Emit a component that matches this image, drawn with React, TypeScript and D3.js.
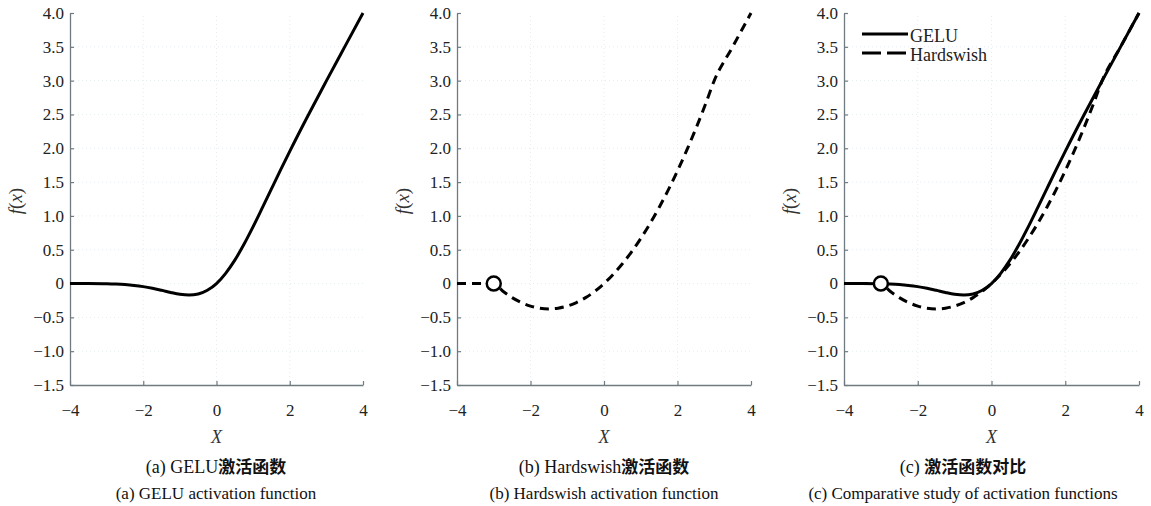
import React, { useEffect, useRef } from 'react';
import * as d3 from 'd3';

// GELU samples
const geluX = [-4, -3.5, -3, -2.75, -2.5, -2.25, -2, -1.75, -1.5, -1.25, -1, -0.75, -0.5, -0.25, 0, 0.25, 0.5, 0.75, 1, 1.25, 1.5, 1.75, 2, 2.5, 3, 3.5, 4];
const geluY = [-0.0001, -0.0008, -0.004, -0.0082, -0.0155, -0.0275, -0.0455, -0.0702, -0.1002, -0.132, -0.1587, -0.17, -0.1543, -0.0987, 0, 0.1513, 0.3457, 0.58, 0.8413, 1.118, 1.3998, 1.6798, 1.9545, 2.4845, 2.996, 3.4992, 3.9999];

// Hardswish samples
const hswX = [-4, -3.5, -3, -2.75, -2.5, -2.25, -2, -1.75, -1.5, -1.25, -1, -0.75, -0.5, -0.25, 0, 0.25, 0.5, 0.75, 1, 1.25, 1.5, 1.75, 2, 2.25, 2.5, 2.75, 3, 3.5, 4];
const hswY = [0, 0, 0, -0.1146, -0.2083, -0.2813, -0.3333, -0.3646, -0.375, -0.3646, -0.3333, -0.2813, -0.2083, -0.1146, 0, 0.1354, 0.2917, 0.4688, 0.6667, 0.8854, 1.125, 1.3854, 1.6667, 1.9688, 2.2917, 2.6354, 3, 3.5, 4];

// kink point marked with a circle
const markX = -3;
const markY = 0;

const xTicks = [-4, -2, 0, 2, 4];
const yTicks = [-1.5, -1.0, -0.5, 0, 0.5, 1.0, 1.5, 2.0, 2.5, 3.0, 3.5, 4.0];

const legendNames = ['GELU', 'Hardswish'];

const captionsCn = ['(a) GELU|激活函数', '(b) Hardswish|激活函数', '(c) |激活函数对比'];
const captionsEn = ['(a) GELU activation function', '(b) Hardswish activation function', '(c) Comparative study of activation functions'];

const App = () => {
  const ref = useRef<SVGSVGElement | null>(null);

  useEffect(() => {
    if (!ref.current) return;
    const svg = d3.select(ref.current);
    svg.selectAll('*').remove();

    const serif = '"Liberation Serif", "Times New Roman", serif';
    const cjk = '"Noto Sans CJK SC", sans-serif';
    const axisColor = '#6f7b80';

    const panels = [
      { x0: 70, x1: 363, series: ['gelu'], mark: false, capX: 216 },
      { x0: 457, x1: 751, series: ['hsw'], mark: true, capX: 604 },
      { x0: 844, x1: 1139, series: ['gelu', 'hsw'], mark: true, capX: 963 },
    ];

    const y = d3.scaleLinear().domain([-1.5, 4]).range([385, 13]);

    const gelu = geluX.map((v, i) => [v, geluY[i]] as [number, number]);
    const hsw = hswX.map((v, i) => [v, hswY[i]] as [number, number]);

    const fmtY = (v: number) => (v === 0 ? '0' : (v < 0 ? '\u2212' : '') + Math.abs(v).toFixed(1));
    const fmtX = (v: number) => (v < 0 ? '\u2212' : '') + Math.abs(v);

    panels.forEach((p, pi) => {
      const x = d3.scaleLinear().domain([-4, 4]).range([p.x0, p.x1]);
      const g = svg.append('g');

      // faint grid
      const grid = g.append('g').attr('stroke', '#e6edef').attr('stroke-width', 1).attr('stroke-dasharray', '1,3');
      xTicks.filter(t => t > -4 && t < 4).forEach(t => {
        grid.append('line').attr('x1', x(t)).attr('x2', x(t)).attr('y1', y(-1.5)).attr('y2', y(4));
      });
      yTicks.filter(t => t > -1.5 && t < 4).forEach(t => {
        grid.append('line').attr('x1', x(-4)).attr('x2', x(4)).attr('y1', y(t)).attr('y2', y(t));
      });

      // axes
      const ax = g.append('g').attr('transform', `translate(0,${y(-1.5)})`)
        .call(d3.axisBottom(x).tickValues(xTicks).tickFormat(d => fmtX(d as number)).tickSize(-4).tickSizeOuter(0).tickPadding(19));
      const ay = g.append('g').attr('transform', `translate(${x(-4)},0)`)
        .call(d3.axisLeft(y).tickValues(yTicks).tickFormat(d => fmtY(d as number)).tickSize(-4).tickSizeOuter(0).tickPadding(6));
      [ax, ay].forEach(a => {
        a.attr('font-family', serif).attr('font-size', 17);
        a.select('.domain').attr('stroke', axisColor).attr('stroke-width', 1.3);
        a.selectAll('.tick line').attr('stroke', axisColor).attr('stroke-width', 1.2);
        a.selectAll('.tick text').attr('fill', '#222');
      });

      // axis titles
      g.append('text').attr('x', (p.x0 + p.x1) / 2).attr('y', 443).attr('text-anchor', 'middle')
        .attr('font-family', serif).attr('font-style', 'italic').attr('font-size', 18).attr('fill', '#333').text('X');
      const yl = g.append('text').attr('transform', `translate(${p.x0 - 48},${(y(-1.5) + y(4)) / 2 + 2}) rotate(-90)`)
        .attr('text-anchor', 'middle').attr('font-family', serif).attr('font-size', 19).attr('fill', '#333');
      yl.append('tspan').attr('font-style', 'italic').text('f');
      yl.append('tspan').text('(');
      yl.append('tspan').attr('font-style', 'italic').text('x');
      yl.append('tspan').text(')');

      const line = d3.line<[number, number]>().x(d => x(d[0])).y(d => y(d[1])).curve(d3.curveMonotoneX);

      if (p.series.includes('hsw')) {
        g.append('path').attr('d', line(hsw) as string).attr('fill', 'none').attr('stroke', '#000')
          .attr('stroke-width', 3).attr('stroke-dasharray', '9,6');
      }
      if (p.series.includes('gelu')) {
        g.append('path').attr('d', line(gelu) as string).attr('fill', 'none').attr('stroke', '#000')
          .attr('stroke-width', 3);
      }
      if (p.mark) {
        g.append('circle').attr('cx', x(markX)).attr('cy', y(markY)).attr('r', 7)
          .attr('fill', '#fff').attr('stroke', '#000').attr('stroke-width', 2.5);
      }

      // legend for panel (c)
      if (pi === 2) {
        const lg = g.append('g');
        legendNames.forEach((name, i) => {
          const ly = 34 + i * 19;
          lg.append('line').attr('x1', 862).attr('x2', 908).attr('y1', ly).attr('y2', ly)
            .attr('stroke', '#000').attr('stroke-width', 3).attr('stroke-dasharray', i === 1 ? '19,6' : null);
          lg.append('text').attr('x', 910).attr('y', ly + 8).attr('font-family', serif).attr('font-size', 18)
            .attr('fill', '#222').text(name);
        });
      }

      // captions
      const [latin, han] = captionsCn[pi].split('|');
      const c1 = g.append('text').attr('x', p.capX).attr('y', 473).attr('text-anchor', 'middle').attr('fill', '#111');
      c1.append('tspan').attr('font-family', serif).attr('font-size', 18).text(latin);
      c1.append('tspan').attr('font-family', cjk).attr('font-weight', 'bold').attr('font-size', 17).text(han);
      g.append('text').attr('x', p.capX).attr('y', 499).attr('text-anchor', 'middle').attr('fill', '#111')
        .attr('font-family', serif).attr('font-size', 17).text(captionsEn[pi]);
    });
  }, []);

  return (
    <svg ref={ref} width={1151} height={506} style={{ position: 'absolute', left: 0, top: 0, background: '#fff' }} />
  );
};

export default App;
